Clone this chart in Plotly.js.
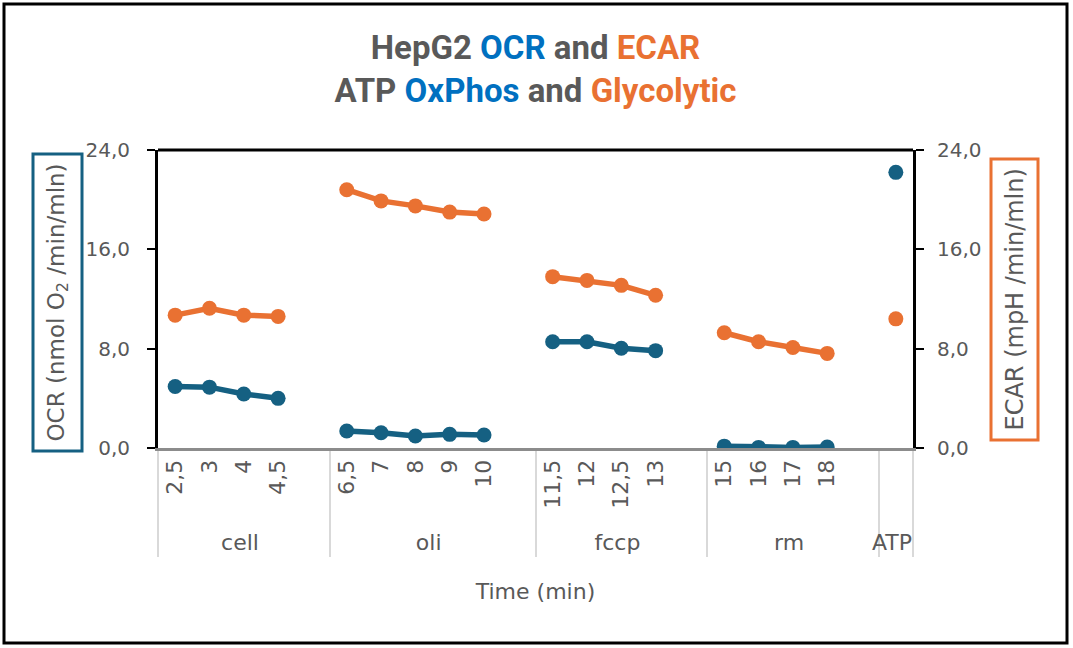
<!DOCTYPE html>
<html>
<head>
<meta charset="utf-8">
<script src="https://cdn.plot.ly/plotly-3.0.1.min.js"></script>
<style>
  html, body { margin: 0; padding: 0; background: #ffffff; }
  #chart { width: 1073px; height: 648px; }
</style>
</head>
<body>
<div id="chart"></div>
<script>
// Seahorse-style run: phase of the assay, read time, and the two rates.
// Blank entries are the spacer slots that separate the phases; each spacer
// gets its own run of spaces so the category order stays as listed.
const phases = ['cell', 'cell', 'cell', 'cell', 'cell',
                'oli', 'oli', 'oli', 'oli', 'oli', 'oli',
                'fccp', 'fccp', 'fccp', 'fccp', 'fccp',
                'rm', 'rm', 'rm', 'rm', 'rm',
                'ATP'];
const times = ['2,5', '3', '4', '4,5', ' ',
               '6,5', '7', '8', '9', '10', '  ',
               '11,5', '12', '12,5', '13', '   ',
               '15', '16', '17', '18', '    ',
               '     '];
const ocr = [4.95, 4.9, 4.35, 4.0, null,
             1.37, 1.23, 0.97, 1.1, 1.05, null,
             8.56, 8.56, 8.03, 7.84, null,
             0.15, 0.05, 0.05, 0.08, null,
             22.2];
const ecar = [10.7, 11.25, 10.7, 10.6, null,
              20.8, 19.9, 19.5, 19.0, 18.85, null,
              13.8, 13.5, 13.1, 12.3, null,
              9.28, 8.56, 8.1, 7.62, null,
              10.4];
const yTicks = [0, 8, 16, 24];

const TEAL = '#156082';
const ORANGE = '#E97132';
const GREY = '#595959';
const FONT = 'DejaVu Sans, Verdana, sans-serif';

const traces = [
  {
    name: 'OCR',
    x: [phases, times],
    y: ocr,
    type: 'scatter',
    mode: 'lines+markers',
    connectgaps: false,
    line: { color: TEAL, width: 5.5 },
    marker: { color: TEAL, size: 15 },
    yaxis: 'y'
  },
  {
    name: 'ECAR',
    x: [phases, times],
    y: ecar,
    type: 'scatter',
    mode: 'lines+markers',
    connectgaps: false,
    line: { color: ORANGE, width: 5.5 },
    marker: { color: ORANGE, size: 15 },
    yaxis: 'y2'
  }
];

const yCommon = {
  range: [0, 24],
  tickvals: yTicks,
  tickformat: '.1f',
  showgrid: false,
  zeroline: false,
  showline: true,
  linecolor: '#000000',
  linewidth: 3,
  ticks: 'outside',
  ticklen: 8,
  tickwidth: 2,
  tickcolor: '#000000',
  tickfont: { family: FONT, size: 20, color: GREY },
  fixedrange: true
};

const layout = {
  width: 1073,
  height: 648,
  margin: { l: 158, r: 160, t: 150, b: 200 },
  paper_bgcolor: '#ffffff',
  plot_bgcolor: '#ffffff',
  separators: ',.',
  showlegend: false,
  font: { family: FONT, color: GREY },
  title: {
    text: 'HepG2 <span style="color:#0070C0">OCR</span> and <span style="color:#E97132">ECAR</span><br>' +
          'ATP <span style="color:#0070C0">OxPhos</span> and <span style="color:#E97132">Glycolytic</span>',
    font: { family: 'Roboto, Arial, sans-serif', size: 33, color: GREY, weight: 'bold' },
    x: 0.5,
    xanchor: 'center',
    xref: 'paper',
    yref: 'container',
    y: 1 - 59 / 648,
    yanchor: 'top'
  },
  xaxis: {
    type: 'multicategory',
    range: [-0.5, 21.5],
    showline: true,
    linecolor: '#8c8c8c',
    linewidth: 3,
    ticks: '',
    tickangle: -90,
    tickfont: { family: FONT, size: 22, color: GREY },
    showdividers: true,
    dividercolor: '#d9d9d9',
    dividerwidth: 2,
    showgrid: false,
    zeroline: false,
    fixedrange: true,
    title: { text: 'Time (min)', font: { family: FONT, size: 22, color: GREY }, standoff: 30 }
  },
  yaxis: Object.assign({}, yCommon, { side: 'left', ticklabelstandoff: 13 }),
  yaxis2: Object.assign({}, yCommon, { side: 'right', overlaying: 'y', ticklabelstandoff: 9 }),
  shapes: [
    // top edge of the plot frame
    { type: 'line', xref: 'paper', yref: 'paper', x0: 0, x1: 1, y0: 1, y1: 1,
      line: { color: '#000000', width: 3 } },
    // outer chart border
    { type: 'rect', xref: 'paper', yref: 'paper',
      x0: (4 - 158) / 755, x1: (1067 - 158) / 755,
      y0: (448 - 643) / 298, y1: (448 - 4) / 298,
      line: { color: '#000000', width: 3 } }
  ],
  annotations: [
    {
      text: 'OCR (nmol O<sub>2</sub> /min/mln)',
      xref: 'paper', yref: 'paper',
      x: (57.5 - 158) / 755, y: (448 - 303) / 298,
      xanchor: 'center', yanchor: 'middle',
      textangle: -90,
      showarrow: false,
      font: { family: FONT, size: 23, color: GREY },
      bordercolor: TEAL, borderwidth: 3, borderpad: 8
    },
    {
      text: 'ECAR (mpH /min/mln)',
      xref: 'paper', yref: 'paper',
      x: (1014 - 158) / 755, y: (448 - 299.5) / 298,
      xanchor: 'center', yanchor: 'middle',
      textangle: -90,
      showarrow: false,
      font: { family: FONT, size: 24, color: GREY },
      bordercolor: ORANGE, borderwidth: 3, borderpad: 8
    }
  ]
};

Plotly.newPlot('chart', traces, layout, { displayModeBar: false, staticPlot: true });
</script>
</body>
</html>
